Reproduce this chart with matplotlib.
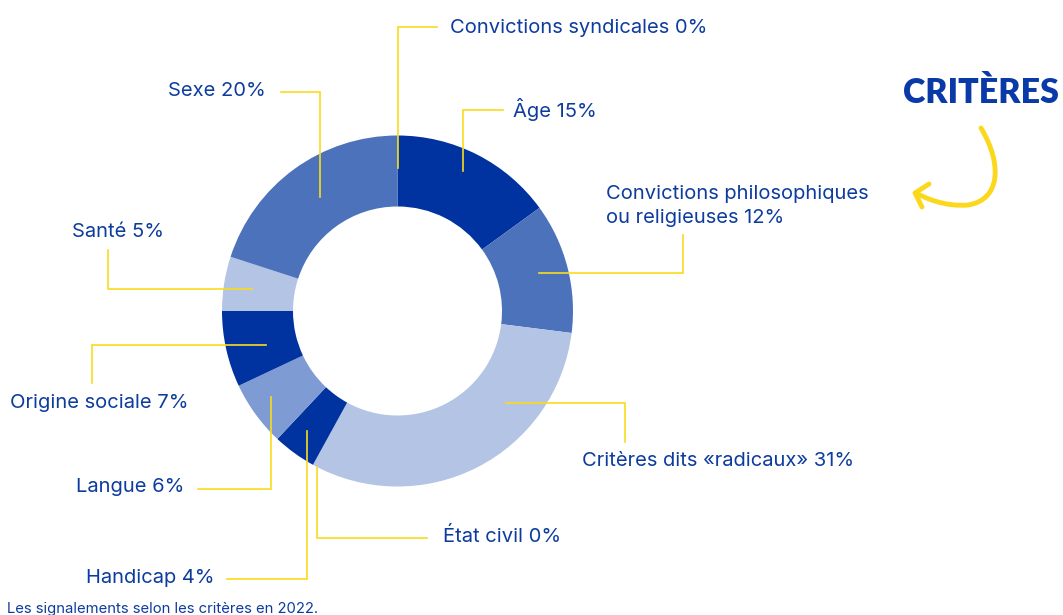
import matplotlib.pyplot as plt
from matplotlib.path import Path
from matplotlib.patches import PathPatch

# data (clockwise from 12 o'clock)
labels = ["Âge", "Convictions philosophiques\nou religieuses", "Critères dits «radicaux»",
          "État civil", "Handicap", "Langue", "Origine sociale", "Santé", "Sexe",
          "Convictions syndicales"]
values = [15, 12, 31, 0, 4, 6, 7, 5, 20, 0]

dark = "#0033a0"
mid = "#4c72bc"
light = "#b3c4e4"
lang = "#7f9bd3"
colors = [dark, mid, light, light, dark, lang, dark, light, mid, mid]
yellow = "#f9dc1c"
txt = "#0d3c9e"

# label layout in pixel coords: leader polyline and text position
leaders = [
    [(463, 171), (463, 110), (503, 110)],
    [(539, 273), (683, 273), (683, 235)],
    [(506, 403), (625, 403), (625, 442)],
    [(317, 467), (317, 538), (427, 538)],
    [(307, 431), (307, 579), (227, 579)],
    [(271, 397), (271, 489), (198, 489)],
    [(266, 345), (92, 345), (92, 383)],
    [(252, 289), (108, 289), (108, 250)],
    [(320, 197), (320, 92), (281, 92)],
    [(398, 168), (398, 27), (437, 27)],
]
text_pos = [(513, 117, "left"), (606, 223, "left"), (582, 466, "left"),
            (443, 542, "left"), (214, 583, "right"), (184, 492, "right"),
            (10, 408, "left"), (72, 237, "left"), (266, 96, "right"),
            (450, 33, "left")]

plt.rcParams['font.family'] = ['Inter', 'DejaVu Sans']

fig = plt.figure(figsize=(10.63, 6.15), dpi=100)
ax = fig.add_axes([0, 0, 1, 1])

ax.pie(values, colors=colors, startangle=-90, counterclock=True,
       center=(397.5, 311), radius=175.5,
       wedgeprops=dict(width=71, linewidth=0))
ax.set_xlim(0, 1063)
ax.set_ylim(615, 0)
ax.set_aspect("equal")
ax.axis("off")

for lab, val, pts, (tx, ty, ha) in zip(labels, values, leaders, text_pos):
    xs = [p[0] for p in pts]
    ys = [p[1] for p in pts]
    ax.plot(xs, ys, color=yellow, lw=1.2, solid_joinstyle="miter")
    ax.text(tx, ty, f"{lab} {val}%", ha=ha, va="baseline", fontsize=14.5,
            color=txt, linespacing=1.45)

# title tag with arrow
ax.text(981, 103, "CRITÈRES", ha="center", va="baseline", fontsize=24.5,
        fontweight="heavy", family=["Lato", "DejaVu Sans"], color="#0a3aa8")
verts = [(981, 128), (1003, 165), (1000, 200), (968, 205), (945, 207), (925, 198), (916, 193)]
codes = [Path.MOVETO, Path.CURVE4, Path.CURVE4, Path.CURVE4, Path.CURVE4, Path.CURVE4, Path.CURVE4]
ax.add_patch(PathPatch(Path(verts, codes), fill=False, edgecolor="#fcd81c", lw=3.5,
                       capstyle="round"))
ax.plot([929, 915, 922], [184, 193, 207], color="#fcd81c", lw=3.5,
        solid_capstyle="round", solid_joinstyle="round")

ax.text(7, 613, "Les signalements selon les critères en 2022.", ha="left",
        va="baseline", fontsize=10.7, color=txt)

fig.savefig("out.png", dpi=100)
